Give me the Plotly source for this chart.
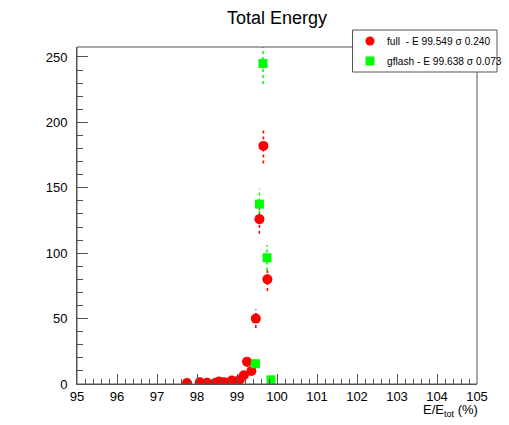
import plotly.graph_objects as go

# full simulation
full_x = [97.75, 98.07, 98.25, 98.45, 98.55, 98.68, 98.87, 99.0, 99.07, 99.17, 99.25, 99.36, 99.47, 99.56, 99.66, 99.76]
full_y = [0.8, 1.4, 1.0, 0.8, 2.0, 1.4, 2.7, 2.0, 3.2, 6.7, 17.0, 10.0, 50.0, 126.0, 182.0, 80.0]
full_err = [0.9, 1.2, 1.0, 0.9, 1.4, 1.2, 1.6, 1.4, 1.8, 2.6, 4.1, 3.2, 7.1, 11.2, 13.5, 8.9]

# gflash simulation
gfl_x = [99.46, 99.56, 99.65, 99.75, 99.85]
gfl_y = [15.5, 137.5, 245.0, 96.5, 3.2]
gfl_err = [3.9, 11.7, 15.7, 9.8, 1.8]

full_label = "full  - E 99.549 \u03c3 0.240"
gfl_label = "gflash - E 99.638 \u03c3 0.073"

x_range = [95, 105]
y_range = [0, 257.6]

# plot-area geometry in pixels (used only to place the legend box)
L, R, T, B = 77, 477, 47, 384


def px_x(p):
    return (p - L) / (R - L)


def px_y(p):
    return (B - p) / (B - T)


def err_segments(xs, ys, es):
    ex, ey = [], []
    for x, y, e in zip(xs, ys, es):
        ex += [x, x, None]
        ey += [y - e, y + e, None]
    return ex, ey


fig = go.Figure()
fx, fy = err_segments(full_x, full_y, full_err)
gx, gy = err_segments(gfl_x, gfl_y, gfl_err)
fig.add_trace(go.Scatter(x=fx, y=fy, mode="lines", line=dict(color="#ff0000", width=1.6, dash="dot"),
                         showlegend=False, hoverinfo="skip"))
fig.add_trace(go.Scatter(x=gx, y=gy, mode="lines", line=dict(color="#00ff00", width=1.6, dash="dot"),
                         showlegend=False, hoverinfo="skip"))
fig.add_trace(go.Scatter(x=full_x, y=full_y, mode="markers", name=full_label, showlegend=False,
                         marker=dict(symbol="circle", size=10, color="#ff0000", line=dict(width=0))))
fig.add_trace(go.Scatter(x=gfl_x, y=gfl_y, mode="markers", name=gfl_label, showlegend=False,
                         marker=dict(symbol="square", size=9, color="#00ff00", line=dict(width=0))))

font = "Liberation Sans, Arial, Helvetica, sans-serif"
axcol = "#555555"

shapes = [
    # frame (top and right sides)
    dict(type="rect", xref="paper", yref="paper", x0=0, x1=1, y0=0, y1=1,
         line=dict(color=axcol, width=1), fillcolor="rgba(0,0,0,0)", layer="above"),
    # legend box
    dict(type="rect", xref="paper", yref="paper", x0=px_x(352.5), x1=px_x(497), y0=px_y(72), y1=px_y(30),
         line=dict(color=axcol, width=1), fillcolor="white", layer="above"),
    dict(type="circle", xref="paper", yref="paper", xsizemode="pixel", ysizemode="pixel",
         xanchor=px_x(370), yanchor=px_y(41), x0=-4.5, x1=4.5, y0=-4.5, y1=4.5,
         line=dict(width=0), fillcolor="#ff0000", layer="above"),
    dict(type="rect", xref="paper", yref="paper", xsizemode="pixel", ysizemode="pixel",
         xanchor=px_x(370), yanchor=px_y(61), x0=-4.5, x1=4.5, y0=-4.5, y1=4.5,
         line=dict(width=0), fillcolor="#00ff00", layer="above"),
]

annotations = [
    dict(text="E/E<sub>tot</sub> (%)", x=1, xref="paper", xanchor="right", xshift=3,
         y=px_y(410), yref="paper", yanchor="middle", showarrow=False,
         font=dict(size=13, color="black")),
    dict(text=full_label, x=px_x(385), xref="paper", xanchor="left", y=px_y(41), yref="paper",
         yanchor="middle", showarrow=False, font=dict(size=10.2, color="black")),
    dict(text=gfl_label, x=px_x(385), xref="paper", xanchor="left", y=px_y(61), yref="paper",
         yanchor="middle", showarrow=False, font=dict(size=10.2, color="black")),
]

fig.update_layout(
    width=509, height=425,
    margin=dict(l=L, r=509 - R, t=T, b=425 - B),
    paper_bgcolor="white", plot_bgcolor="white",
    font=dict(family=font, size=13, color="black"),
    showlegend=False,
    title=dict(text="Total Energy", x=(L + (R - L) / 2) / 509, xanchor="center", y=1 - 18 / 425, yanchor="middle",
               font=dict(size=18, color="black")),
    xaxis=dict(range=x_range, tick0=95, dtick=1, ticks="inside", ticklen=10, tickcolor=axcol,
               showline=True, linecolor=axcol, linewidth=1, mirror=False, showgrid=False, zeroline=False,
               minor=dict(dtick=0.2, ticks="inside", ticklen=5, tickcolor=axcol),
               tickfont=dict(size=13)),
    yaxis=dict(range=y_range, tick0=0, dtick=50, ticks="inside", ticklen=11, tickcolor=axcol,
               showline=True, linecolor=axcol, linewidth=1, mirror=False, showgrid=False, zeroline=False,
               minor=dict(dtick=10, ticks="inside", ticklen=6, tickcolor=axcol),
               tickfont=dict(size=13), ticklabelstandoff=6),
    shapes=shapes,
    annotations=annotations,
)

fig.write_html("out.html")
